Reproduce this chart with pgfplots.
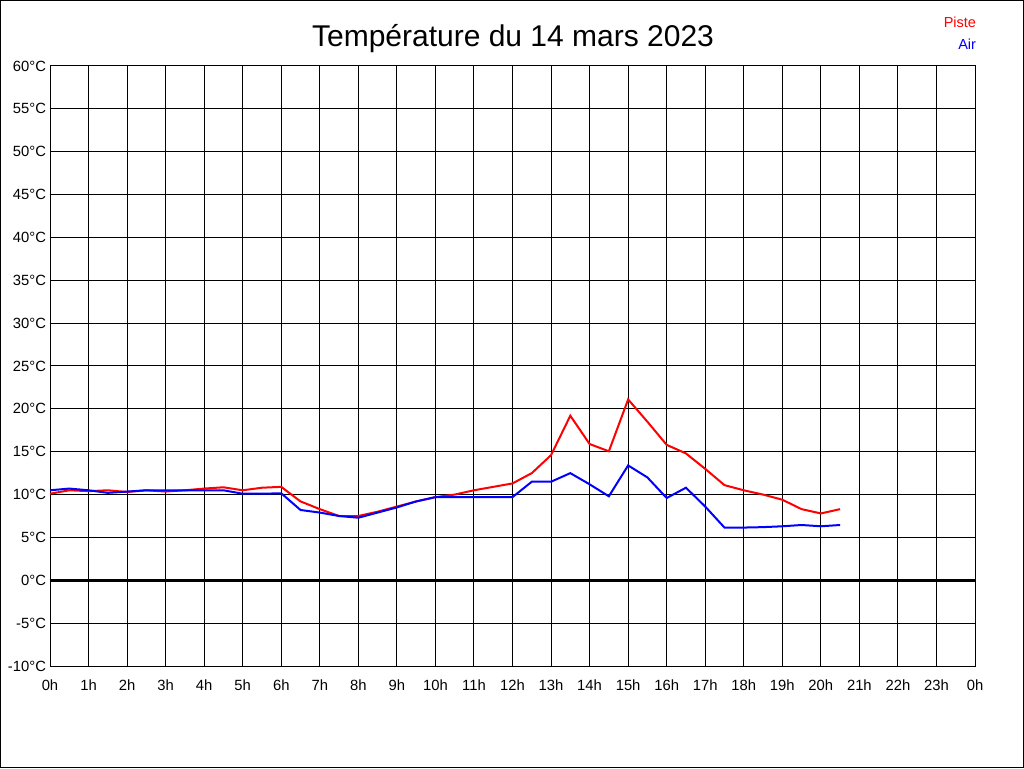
\documentclass[border=0pt]{standalone}
\usepackage{pgfplots}
\pgfplotsset{compat=1.18}
\usepackage{fontspec}
\setmainfont{Liberation Sans}
\begin{document}
\begin{tikzpicture}[x=1pt,y=1pt]
\useasboundingbox (0,0) rectangle (1024,768);
\fill[white] (0,0) rectangle (1024,768);
\draw[black, line width=1pt] (0.5,0.5) rectangle (1023.5,767.5);
\node[font=\fontsize{30}{32}\selectfont, anchor=center] at (513,729) {Température du 14 mars 2023};
\begin{axis}[
  scale only axis, width=925pt, height=600pt,
  at={(50pt,102pt)}, anchor=south west,
  xmin=0, xmax=24, ymin=-10, ymax=60,
  xtick={0,1,...,24}, ytick={-10,-5,...,60},
  xticklabels={0h,1h,2h,3h,4h,5h,6h,7h,8h,9h,10h,11h,12h,13h,14h,15h,16h,17h,18h,19h,20h,21h,22h,23h,0h},
  yticklabels={-10°C,-5°C,0°C,5°C,10°C,15°C,20°C,25°C,30°C,35°C,40°C,45°C,50°C,55°C,60°C},
  major tick length=0pt,
  grid=major,
  major grid style={black, line width=1pt},
  axis line style={black, line width=1pt},
  tick label style={font=\fontsize{14.8}{16}\selectfont},
  yticklabel style={xshift=-0.5pt},
  xticklabel style={yshift=-10pt},
  legend style={at={(rel axis cs:1,1.085)}, xshift=3pt, anchor=north east, draw=none, fill=none,
    font=\fontsize{14.5}{16}\selectfont, row sep=6pt, inner sep=0pt, outer sep=0pt},
  legend cell align=right,
  legend image code/.code={},
  clip=false,
]
\addplot[black, line width=3pt, forget plot] coordinates {(0,0) (24,0)};
\addplot[red, line width=2pt] coordinates {
(0,10.1) (0.5,10.5) (1,10.4) (1.5,10.5) (2,10.3) (2.5,10.5) (3,10.35) (3.5,10.5)
(4,10.7) (4.5,10.85) (5,10.5) (5.5,10.8) (6,10.9) (6.5,9.2) (7,8.3) (7.5,7.5)
(8,7.5) (8.5,8.0) (9,8.6) (9.5,9.2) (10,9.7) (10.5,10.0) (11,10.5) (11.5,10.9)
(12,11.3) (12.5,12.5) (13,14.6) (13.5,19.2) (14,15.9) (14.5,15.05) (15,21.1) (15.5,18.5)
(16,15.8) (16.5,14.8) (17,13.0) (17.5,11.1) (18,10.5) (18.5,10.0) (19,9.4) (19.5,8.3)
(20,7.8) (20.5,8.3)};
\addlegendentry{\textcolor{red}{Piste}}
\addplot[blue, line width=2pt] coordinates {
(0,10.5) (0.5,10.7) (1,10.5) (1.5,10.2) (2,10.35) (2.5,10.5) (3,10.5) (3.5,10.5)
(4,10.5) (4.5,10.5) (5,10.1) (5.5,10.1) (6,10.15) (6.5,8.2) (7,7.9) (7.5,7.5)
(8,7.3) (8.5,7.9) (9,8.5) (9.5,9.2) (10,9.7) (10.5,9.7) (11,9.7) (11.5,9.7)
(12,9.7) (12.5,11.5) (13,11.5) (13.5,12.5) (14,11.2) (14.5,9.8) (15,13.4) (15.5,12.0)
(16,9.6) (16.5,10.8) (17,8.6) (17.5,6.15) (18,6.15) (18.5,6.2) (19,6.3) (19.5,6.45)
(20,6.3) (20.5,6.45)};
\addlegendentry{\textcolor{blue}{Air}}
\end{axis}
\end{tikzpicture}
\end{document}
